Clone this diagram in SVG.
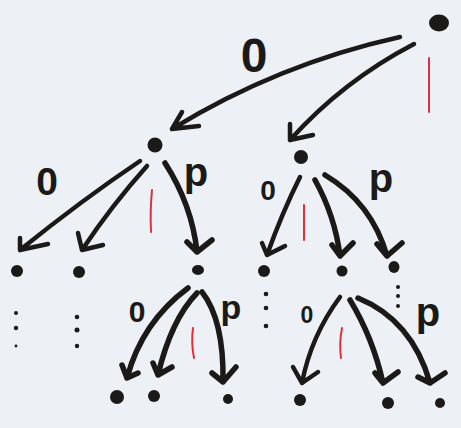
<svg xmlns="http://www.w3.org/2000/svg" width="461" height="428" viewBox="0 0 461 428">
<style>
.bg{fill:#edf0f5}
.node{fill:#1c1a18}
.dot{fill:#1c1a18}
.edge{fill:none;stroke:#1c1a18;stroke-width:4.5;stroke-linecap:round;stroke-linejoin:round}
.thick{stroke-width:5.5}
.lbl{font-family:"Liberation Sans","DejaVu Sans",sans-serif;font-weight:bold;fill:#1c1a18;text-anchor:middle}
.red{fill:none;stroke:#e0303c;stroke-width:2;stroke-linecap:round}
</style>
<rect class="bg" x="0" y="0" width="461" height="428"/>
<g id="connectors">
  <path class="edge" d="M400,37 Q278,64 172,129 M182,112 L172,129 L199,126"/>
  <path class="edge" d="M414,44 Q343,81 290,140 M290,124 L290,140 L313,135"/>
  <path class="edge" d="M140,161 Q82,200 20,250 M20,238 L20,250 L48,244"/>
  <path class="edge" d="M147,166 Q112,205 82,250 M78,233 L82,250 L103,245"/>
  <path class="edge thick" d="M165,163 Q192,205 197,252 M187,242 L197,252 L212,240"/>
  <path class="edge" d="M300,177 Q282,213 267,255 M262,243 L267,255 L285,246"/>
  <path class="edge thick" d="M315,180 Q335,216 340,256 M332,245 L340,256 L353,243"/>
  <path class="edge thick" d="M325,175 Q372,203 387,256 M377,244 L387,256 L402,243"/>
  <path class="edge thick" d="M188,288 Q142,322 127,378 M122,365 L127,378 L138,373"/>
  <path class="edge thick" d="M197,293 Q171,320 158,375 M153,363 L158,375 L172,367"/>
  <path class="edge thick" d="M202,292 Q224,320 223,382 M212,373 L223,382 L236,367"/>
  <path class="edge" d="M340,297 Q311,336 302,383 M293,367 L302,383 L318,372"/>
  <path class="edge thick" d="M350,300 Q373,338 383,383 M375,373 L383,383 L398,372"/>
  <path class="edge thick" d="M358,298 Q412,320 430,383 M418,377 L430,383 L445,373"/>
</g>
<g id="labels">
  <text class="lbl" x="254" y="72" font-size="48">0</text>
  <path class="red" d="M429,58 L429,112"/>
  <text class="lbl" x="47" y="195" font-size="39">0</text>
  <path class="red" d="M152,190 Q150,210 151,232"/>
  <text class="lbl" x="196" y="186" font-size="40">p</text>
  <text class="lbl" x="268" y="200" font-size="28">0</text>
  <path class="red" d="M304,205 L304,240"/>
  <text class="lbl" x="381" y="192" font-size="40">p</text>
  <text class="lbl" x="137" y="322" font-size="30">0</text>
  <path class="red" d="M193,328 Q191,343 194,358"/>
  <text class="lbl" x="231" y="319" font-size="34">p</text>
  <text class="lbl" x="307" y="323" font-size="23">0</text>
  <path class="red" d="M342,328 Q339,343 341,358"/>
  <text class="lbl" x="428" y="326" font-size="40">p</text>
</g>
<g id="n-root"><ellipse class="node" cx="439" cy="23" rx="10" ry="8.5"/></g>
<g id="n-a"><circle class="node" cx="155" cy="145" r="7.5"/></g>
<g id="n-b"><circle class="node" cx="301" cy="157" r="7"/></g>
<g id="n-aa"><circle class="node" cx="17" cy="271" r="6"/>
  <circle class="dot" cx="16" cy="313" r="2"/><circle class="dot" cx="16" cy="328" r="2.2"/><circle class="dot" cx="16" cy="346" r="1.4"/></g>
<g id="n-ab"><circle class="node" cx="79" cy="272" r="6"/>
  <circle class="dot" cx="77" cy="317" r="2.3"/><circle class="dot" cx="77" cy="330" r="2.5"/><circle class="dot" cx="77" cy="346" r="2.2"/></g>
<g id="n-ac"><ellipse class="node" cx="198" cy="270" rx="6" ry="5"/></g>
<g id="n-ba"><circle class="node" cx="264" cy="271" r="6"/>
  <circle class="dot" cx="266" cy="294" r="2.3"/><circle class="dot" cx="266" cy="308" r="2.3"/><circle class="dot" cx="266" cy="326" r="2.3"/></g>
<g id="n-bb"><circle class="node" cx="342" cy="271" r="5.5"/></g>
<g id="n-bc"><ellipse class="node" cx="394" cy="267" rx="5.5" ry="6"/>
  <circle class="dot" cx="398" cy="287" r="2"/><circle class="dot" cx="398" cy="296" r="2"/><circle class="dot" cx="398" cy="306" r="2"/></g>
<g id="n-aca"><circle class="node" cx="117" cy="397" r="7"/></g>
<g id="n-acb"><circle class="node" cx="154" cy="396" r="6"/></g>
<g id="n-acc"><circle class="node" cx="228" cy="399" r="5"/></g>
<g id="n-bba"><circle class="node" cx="300" cy="400" r="6"/></g>
<g id="n-bbb"><circle class="node" cx="388" cy="403" r="6"/></g>
<g id="n-bbc"><circle class="node" cx="440" cy="403" r="5"/></g>
</svg>
